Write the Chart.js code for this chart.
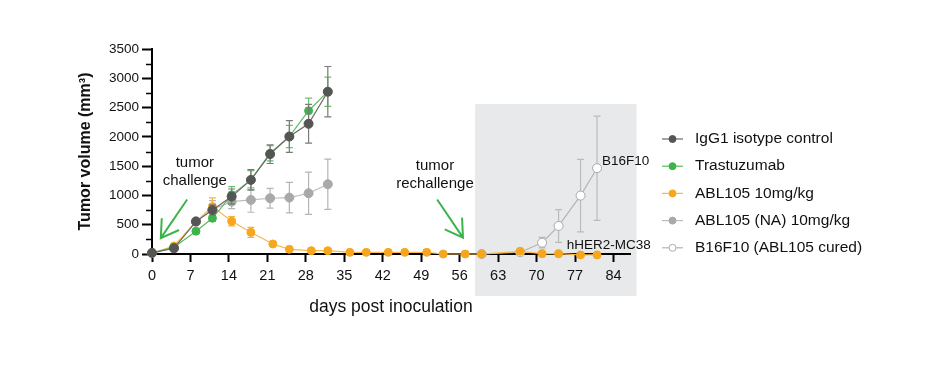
<!DOCTYPE html>
<html>
<head>
<meta charset="utf-8">
<title>Tumor volume</title>
<script src="https://cdn.jsdelivr.net/npm/chart.js@4.4.1/dist/chart.umd.min.js"></script>
<style>
  html, body { margin: 0; padding: 0; background: #ffffff; }
  #tumorChart { display: block; }
</style>
</head>
<body>
<canvas id="tumorChart" width="930" height="365"></canvas>
<script>
// days post inoculation (first phase, shared by control groups)
const days = [0, 4, 8, 11, 14.5, 18, 21.5, 25, 28.5, 32];

const igg1Mean = [20, 97, 553, 750, 980, 1265, 1705, 2006, 2223, 2771];
const igg1Err = [8, 20, 40, 90, 130, 175, 160, 270, 330, 430];

const trastuzumabMean = [20, 115, 390, 610, 1010, 1265, 1720, 2006, 2446, 2771];
const trastuzumabErr = [8, 20, 30, 50, 140, 160, 130, 190, 215, 250];

const naMean = [15, 110, 560, 760, 895, 923, 952, 963, 1037, 1191];
const naErr = [5, 15, 40, 150, 120, 210, 170, 260, 360, 430];

// ABL105 followed through the rechallenge
const ablDays = [0, 4, 8, 11, 14.5, 18, 22, 25, 29, 32, 36, 39, 43, 46, 50, 53, 57, 60, 67, 71, 74, 78, 81];
const ablMean = [15, 137, 553, 809, 560, 370, 171, 80, 57, 57, 28, 28, 28, 28, 28, 0, 0, 0, 45, 5, 5, -15, -15];
const ablErr = [5, 20, 40, 150, 80, 85, 20, 15, 10, 10, 0, 0, 0, 0, 0, 0, 0, 0, 0, 0, 0, 0, 0];

// B16F10 rechallenge in cured mice
const b16Days = [60, 67, 71, 74, 78, 81];
const b16Mean = [0, 30, 193, 479, 997, 1465];
const b16Err = [0, 0, 90, 280, 620, 890];

const xTicks = [0, 7, 14, 21, 28, 35, 42, 49, 56, 63, 70, 77, 84];
const yTicks = [0, 500, 1000, 1500, 2000, 2500, 3000, 3500];

const FONT = "'Liberation Sans', Arial, sans-serif";

function toPoints(xs, ys) {
    return xs.map((x, i) => ({ x: x, y: ys[i] }));
}

// vertical error bars with caps, drawn just under each dataset
const errorBars = {
    id: 'errorBars',
    beforeDatasetDraw(chart, args) {
        const ds = chart.data.datasets[args.index];
        if (!ds.errors) return;
        const ctx = chart.ctx;
        const xs = chart.scales.x, ys = chart.scales.y;
        ctx.save();
        ctx.strokeStyle = ds.errorColor;
        ctx.lineWidth = 1.2;
        ds.data.forEach((p, i) => {
            const e = ds.errors[i];
            if (!e) return;
            const px = xs.getPixelForValue(p.x);
            const top = ys.getPixelForValue(p.y + e);
            const bot = ys.getPixelForValue(p.y - e);
            ctx.beginPath();
            ctx.moveTo(px, top); ctx.lineTo(px, bot);
            ctx.moveTo(px - 3.5, top); ctx.lineTo(px + 3.5, top);
            ctx.moveTo(px - 3.5, bot); ctx.lineTo(px + 3.5, bot);
            ctx.stroke();
        });
        ctx.restore();
    }
};

// grey panel behind the rechallenge period
const rechallengePanel = {
    id: 'rechallengePanel',
    beforeDraw(chart) {
        const ctx = chart.ctx;
        const xs = chart.scales.x, ys = chart.scales.y;
        const left = xs.getPixelForValue(58.8);
        const right = xs.getPixelForValue(88.2);
        const top = ys.getPixelForValue(2560);
        const bottom = ys.getPixelForValue(0) + 42;
        ctx.save();
        ctx.fillStyle = '#e8e9ea';
        ctx.fillRect(left, top, right - left, bottom - top);
        ctx.restore();
    }
};

function drawArrow(ctx, x0, y0, x1, y1) {
    const ang = Math.atan2(y1 - y0, x1 - x0);
    const head = 20;
    ctx.beginPath();
    ctx.moveTo(x0, y0);
    ctx.lineTo(x1, y1);
    ctx.moveTo(x1 - head * Math.cos(ang - 0.55), y1 - head * Math.sin(ang - 0.55));
    ctx.lineTo(x1, y1);
    ctx.lineTo(x1 - head * Math.cos(ang + 0.55), y1 - head * Math.sin(ang + 0.55));
    ctx.stroke();
}

// minor ticks, annotations, arrows and the legend
const extras = {
    id: 'extras',
    afterDraw(chart) {
        const ctx = chart.ctx;
        const xs = chart.scales.x, ys = chart.scales.y;
        const axisX = xs.getPixelForValue(0);
        ctx.save();

        // minor y ticks
        ctx.strokeStyle = '#000';
        ctx.lineWidth = 1.5;
        for (let v = 250; v < 3500; v += 500) {
            const py = Math.round(ys.getPixelForValue(v)) + 0.5;
            ctx.beginPath();
            ctx.moveTo(axisX - 6, py);
            ctx.lineTo(axisX, py);
            ctx.stroke();
        }

        // text annotations
        ctx.fillStyle = '#111';
        ctx.font = '15px ' + FONT;
        ctx.textAlign = 'center';
        ctx.textBaseline = 'middle';
        ctx.fillText('tumor', xs.getPixelForValue(7.8), 163);
        ctx.fillText('challenge', xs.getPixelForValue(7.8), 181);
        ctx.fillText('tumor', xs.getPixelForValue(51.5), 166);
        ctx.fillText('rechallenge', xs.getPixelForValue(51.5), 184);

        ctx.font = '13.5px ' + FONT;
        ctx.textAlign = 'left';
        const lastX = xs.getPixelForValue(b16Days[b16Days.length - 1]);
        const lastY = ys.getPixelForValue(b16Mean[b16Mean.length - 1]);
        ctx.fillText('B16F10', lastX + 5, lastY - 7);
        ctx.fillText('hHER2-MC38', xs.getPixelForValue(75.5), ys.getPixelForValue(0) - 9);

        // green arrows
        ctx.strokeStyle = '#3cb44b';
        ctx.lineWidth = 2;
        drawArrow(ctx, xs.getPixelForValue(6.4), ys.getPixelForValue(930),
                  xs.getPixelForValue(1.6), ys.getPixelForValue(270));
        drawArrow(ctx, xs.getPixelForValue(51.9), ys.getPixelForValue(930),
                  xs.getPixelForValue(56.6), ys.getPixelForValue(280));

        // legend
        const lx = 662, ly0 = 139, step = 27.2;
        chart.data.datasets.forEach((ds, i) => {
            const y = ly0 + i * step;
            ctx.strokeStyle = ds.borderColor;
            ctx.lineWidth = 1.2;
            ctx.beginPath();
            ctx.moveTo(lx, y); ctx.lineTo(lx + 21, y);
            ctx.stroke();
            ctx.beginPath();
            ctx.arc(lx + 10.5, y, 3.5, 0, Math.PI * 2);
            ctx.fillStyle = ds.pointBackgroundColor;
            ctx.fill();
            ctx.strokeStyle = ds.pointBorderColor;
            ctx.lineWidth = 1;
            ctx.stroke();
            ctx.fillStyle = '#111';
            ctx.font = '15.5px ' + FONT;
            ctx.textAlign = 'left';
            ctx.fillText(ds.label, 695, y);
        });
        ctx.restore();
    }
};

function series(label, xs, mean, err, marker, line, errColor, fill, radius) {
    return {
        label: label,
        data: toPoints(xs, mean),
        errors: err,
        errorColor: errColor,
        borderColor: line,
        borderWidth: 1.2,
        pointBackgroundColor: fill,
        pointBorderColor: marker,
        pointBorderWidth: 1,
        pointRadius: radius,
        pointHoverRadius: radius,
        tension: 0,
        clip: false
    };
}

document.addEventListener('DOMContentLoaded', function() {
    if (typeof Chart === 'undefined') {
        console.error('Chart.js is not loaded.');
        return;
    }
    const ctx = document.getElementById('tumorChart').getContext('2d');

    new Chart(ctx, {
        type: 'line',
        data: {
            datasets: [
                series('IgG1 isotype control', days, igg1Mean, igg1Err, '#555555', '#6a6a6a', '#7a7a7a', '#555555', 4.5),
                series('Trastuzumab', days, trastuzumabMean, trastuzumabErr, '#3cb44b', '#5cbb62', '#6cc070', '#3cb44b', 4),
                series('ABL105 10mg/kg', ablDays, ablMean, ablErr, '#f6a71e', '#f8b84c', '#f3b347', '#f6a71e', 4),
                series('ABL105 (NA) 10mg/kg', days, naMean, naErr, '#a9a9a9', '#bdbdbd', '#b5b5b5', '#a9a9a9', 4.5),
                series('B16F10 (ABL105 cured)', b16Days, b16Mean, b16Err, '#aaaaaa', '#b5b5b5', '#bbbbbb', '#ffffff', 4.5)
            ]
        },
        options: {
            responsive: false,
            animation: false,
            devicePixelRatio: 1,
            layout: {
                padding: { left: 76, top: 49, right: 300, bottom: 47 }
            },
            plugins: {
                legend: { display: false },
                tooltip: { enabled: false }
            },
            scales: {
                x: {
                    type: 'linear',
                    min: 0,
                    max: 87,
                    afterFit: function(scale) { scale.height = 64; },
                    afterBuildTicks: function(scale) {
                        scale.ticks = xTicks.map(v => ({ value: v }));
                    },
                    border: { display: true, color: '#000', width: 2 },
                    grid: {
                        display: true,
                        drawOnChartArea: false,
                        drawTicks: true,
                        tickLength: 8,
                        tickColor: '#000',
                        tickWidth: 2
                    },
                    ticks: {
                        color: '#111',
                        padding: 5,
                        maxRotation: 0,
                        callback: v => String(v),
                        font: { family: FONT, size: 14.5 }
                    },
                    title: {
                        display: true,
                        text: 'days post inoculation',
                        color: '#111',
                        padding: 0,
                        font: { family: FONT, size: 17.5 }
                    }
                },
                y: {
                    min: 0,
                    max: 3500,
                    afterFit: function(scale) { scale.width = 76; },
                    afterBuildTicks: function(scale) {
                        scale.ticks = yTicks.map(v => ({ value: v }));
                    },
                    border: { display: true, color: '#000', width: 2 },
                    grid: {
                        display: true,
                        drawOnChartArea: false,
                        drawTicks: true,
                        tickLength: 10,
                        tickColor: '#000',
                        tickWidth: 2
                    },
                    ticks: {
                        color: '#111',
                        padding: 3,
                        callback: v => String(v),
                        font: { family: FONT, size: 13.5 }
                    },
                    title: {
                        display: true,
                        text: 'Tumor volume (mm³)',
                        color: '#111',
                        padding: 0,
                        font: { family: FONT, size: 16, weight: 'bold' }
                    }
                }
            }
        },
        plugins: [rechallengePanel, errorBars, extras]
    });
});
</script>
</body>
</html>
